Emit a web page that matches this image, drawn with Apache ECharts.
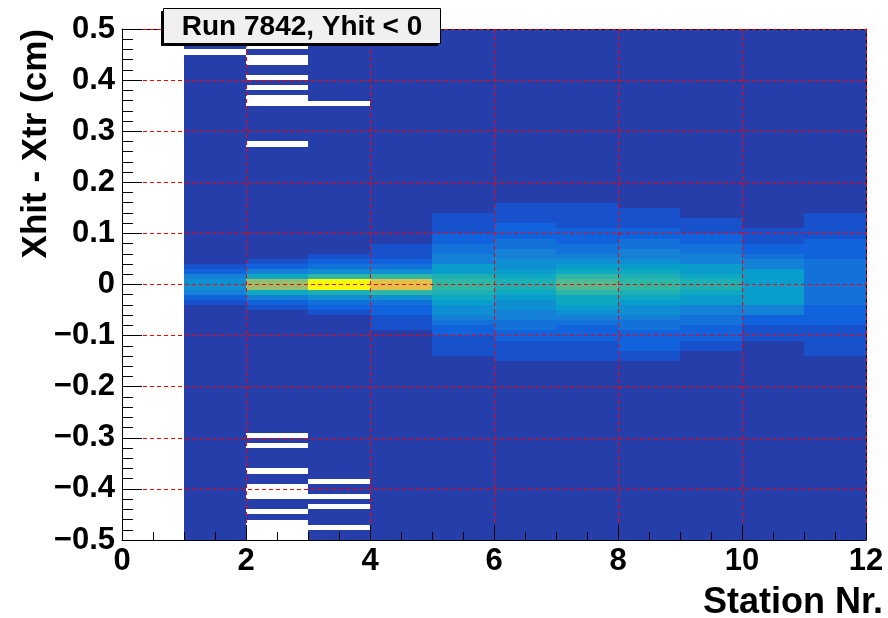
<!DOCTYPE html>
<html>
<head>
<meta charset="utf-8">
<script src="https://cdn.jsdelivr.net/npm/echarts@6.0.0/dist/echarts.min.js"></script>
<style>
  html, body { margin: 0; padding: 0; background: #fff; }
  #chart { width: 888px; height: 618px; }
</style>
</head>
<body>
<div id="chart"></div>
<script>
// station bins run from st to st + 1, residual bins are 0.01 cm wide
const stations = [1, 2, 3, 4, 5, 6, 7, 8, 9, 10, 11]
const yLow = -0.5
const binWidth = 0.01
const binCount = 100
const background = 5

// upper edge of the populated core of each station, then its values from top to bottom
const coreTop = [0.04, 0.05, 0.06, 0.08, 0.14, 0.16, 0.16, 0.15, 0.13, 0.11, 0.14]
const coreValues = [
  [10, 15, 25, 30, 30, 25, 15, 10],
  [10, 15, 25, 40, 65, 65, 40, 25, 15, 10],
  [10, 15, 20, 30, 50, 100, 100, 45, 30, 20, 15, 10],
  [10, 10, 10, 15, 20, 30, 50, 80, 80, 50, 30, 20, 15, 15, 10, 10, 10],
  [10, 10, 10, 10, 15, 15, 20, 20, 25, 25, 35, 35, 45, 50, 50, 45, 40, 35, 30, 30, 25, 20, 15, 15, 10, 10, 10, 10],
  [10, 10, 10, 10, 15, 15, 15, 20, 20, 25, 25, 30, 30, 35, 40, 45, 45, 40, 35, 30, 30, 25, 25, 20, 20, 15, 15, 10, 10, 10, 10],
  [10, 10, 10, 10, 10, 15, 15, 15, 20, 20, 25, 30, 35, 40, 50, 55, 55, 50, 40, 40, 35, 30, 25, 20, 15, 15, 15, 10, 10, 10, 10],
  [10, 10, 10, 10, 15, 15, 20, 20, 25, 25, 30, 35, 40, 45, 50, 50, 45, 40, 35, 30, 30, 25, 20, 20, 15, 15, 15, 15, 10, 10],
  [10, 10, 10, 15, 15, 20, 20, 25, 25, 35, 35, 40, 45, 45, 40, 35, 35, 25, 25, 20, 20, 15, 15, 15, 10, 10],
  [10, 10, 10, 15, 15, 20, 25, 25, 35, 35, 35, 35, 35, 35, 35, 25, 25, 15, 15, 10, 10, 10],
  [10, 10, 10, 10, 10, 15, 15, 15, 15, 20, 20, 20, 20, 20, 20, 20, 20, 20, 15, 15, 15, 15, 10, 10, 10, 10, 10, 10]
]

// lower edges of the bins that stayed empty
const emptyBins = [
  [0.45],
  [0.46, 0.44, 0.43, 0.40, 0.38, 0.36, 0.35, 0.27, -0.30, -0.32, -0.37, -0.40, -0.41, -0.42, -0.45, -0.47, -0.48, -0.49, -0.50],
  [0.35, -0.39, -0.42, -0.44, -0.48],
  [], [], [], [], [], [], [], []
]

const birdColors = ['#352a87', '#0f5cdd', '#1481d6', '#06a4ca', '#2eb7a4', '#87bf77', '#d1bb59', '#fec832', '#f9fb0e']
const font = "'Liberation Sans', Arial, Helvetica, sans-serif"

const cells = []
stations.forEach((st, i) => {
  const top = Math.round((coreTop[i] - yLow) / binWidth)
  const core = coreValues[i]
  const empty = emptyBins[i].map(v => Math.round((v - yLow) / binWidth))
  for (let k = 0; k < binCount; k++) {
    if (empty.includes(k)) continue
    const j = top - 1 - k
    const z = (j >= 0 && j < core.length) ? core[j] : background
    cells.push([st, +(yLow + k * binWidth).toFixed(2), z])
  }
})

const renderCell = (params, api) => {
  const x0 = api.value(0)
  const y0 = api.value(1)
  const a = api.coord([x0, y0 + binWidth])
  const b = api.coord([x0 + 1, y0])
  const left = Math.round(a[0])
  const top = Math.round(a[1])
  return {
    type: 'rect',
    shape: { x: left, y: top, width: Math.round(b[0]) - left, height: Math.round(b[1]) - top },
    style: { fill: api.visual('color') }
  }
}

const yLabel = v => {
  if (Math.abs(v) < 1e-9) return '0'
  return v < 0 ? '\u2212' + (-v).toFixed(1) : v.toFixed(1)
}

const gridLine = { show: true, lineStyle: { color: '#ff0000', width: 1, type: [4, 3] } }
const blackLine = { show: true, onZero: false, lineStyle: { color: '#000', width: 1 } }
const labelStyle = { color: '#000', fontFamily: font, fontWeight: 'bold', fontSize: 31 }

const chart = echarts.init(document.getElementById('chart'))
chart.setOption({
  animation: false,
  backgroundColor: '#fff',
  grid: { left: 122, right: 22, top: 29, bottom: 78, containLabel: false, outerBoundsMode: 'none' },
  xAxis: [
    {
      type: 'value', min: 0, max: 12, interval: 2, position: 'bottom', z: 5,
      axisLine: blackLine,
      axisTick: { show: true, inside: true, length: 15, lineStyle: { color: '#000' } },
      minorTick: { show: true, splitNumber: 4, length: 8, lineStyle: { color: '#000' } },
      axisLabel: { ...labelStyle, margin: 6 },
      splitLine: gridLine
    },
    {
      type: 'value', min: 0, max: 12, position: 'top', z: 4,
      axisLine: blackLine, axisTick: { show: false }, axisLabel: { show: false }, splitLine: { show: false }
    }
  ],
  yAxis: [
    {
      type: 'value', min: -0.5, max: 0.5, interval: 0.1, position: 'left', z: 5,
      axisLine: blackLine,
      axisTick: { show: true, inside: true, length: 20, lineStyle: { color: '#000' } },
      minorTick: { show: true, splitNumber: 5, length: 11, lineStyle: { color: '#000' } },
      axisLabel: { ...labelStyle, margin: 7, formatter: yLabel },
      splitLine: gridLine
    },
    {
      type: 'value', min: -0.5, max: 0.5, position: 'right', z: 4,
      axisLine: blackLine, axisTick: { show: false }, axisLabel: { show: false }, splitLine: { show: false }
    }
  ],
  visualMap: {
    type: 'continuous', show: false, min: 0, max: 100, dimension: 2, seriesIndex: 0,
    inRange: { color: birdColors }
  },
  series: [{
    type: 'custom',
    coordinateSystem: 'cartesian2d',
    xAxisIndex: 0,
    yAxisIndex: 0,
    encode: { x: 0, y: 1 },
    silent: true,
    renderItem: renderCell,
    data: cells
  }],
  graphic: [
    { type: 'rect', z: 10, shape: { x: 161, y: 11, width: 277, height: 35 }, style: { fill: '#000' } },
    { type: 'rect', z: 11, shape: { x: 163.5, y: 8.5, width: 277, height: 35 }, style: { fill: '#f0f0f0', stroke: '#000', lineWidth: 1 } },
    {
      type: 'text', z: 12, x: 302, y: 27,
      style: { text: 'Run 7842, Yhit < 0', fill: '#000', font: 'bold 28px ' + font, align: 'center', verticalAlign: 'middle' }
    },
    {
      type: 'text', z: 12, x: 36.5, y: 29, rotation: Math.PI / 2,
      style: { text: 'Xhit - Xtr (cm)', fill: '#000', font: 'bold 35px ' + font, align: 'right', verticalAlign: 'middle' }
    },
    {
      type: 'text', z: 12, x: 883, y: 603,
      style: { text: 'Station Nr.', fill: '#000', font: 'bold 36px ' + font, align: 'right', verticalAlign: 'middle' }
    }
  ]
})
</script>
</body>
</html>
